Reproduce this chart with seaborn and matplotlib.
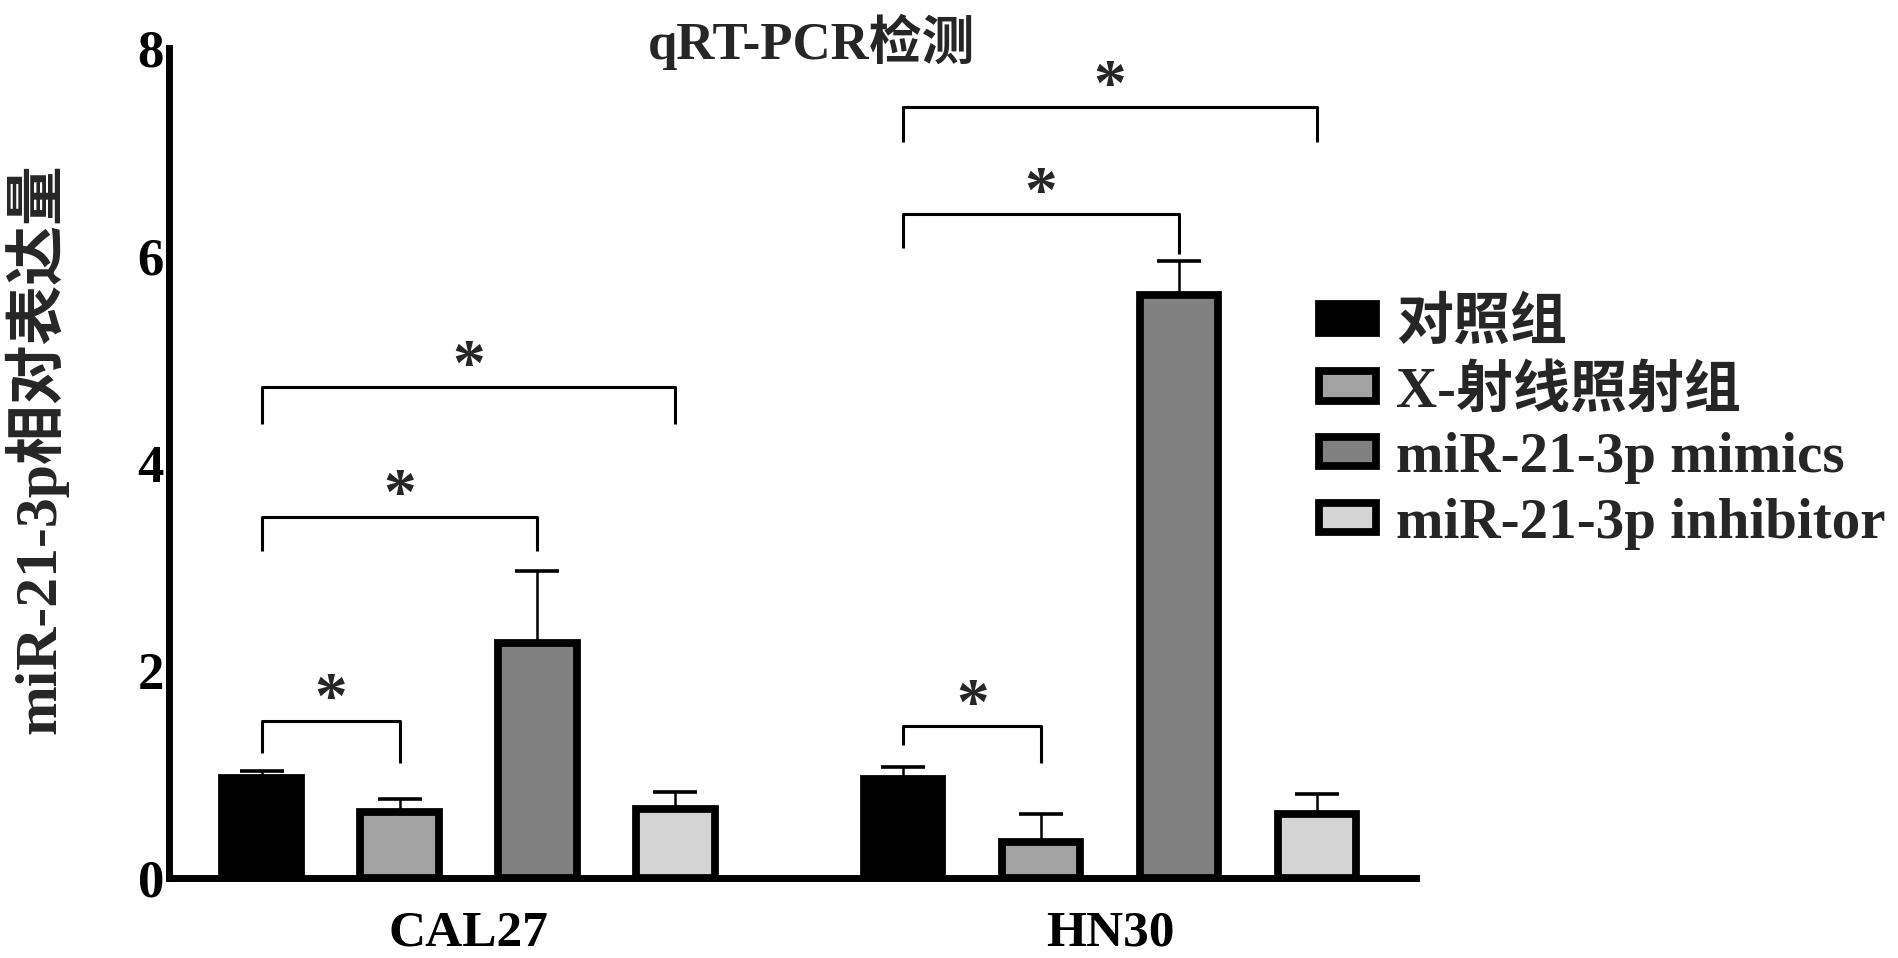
import numpy as np
import pandas as pd
import matplotlib
matplotlib.use("Agg")
import matplotlib.pyplot as plt
import seaborn as sns
from matplotlib.patches import Patch

# data
cells = ["CAL27", "HN30"]
groups = ["对照组", "X-射线照射组", "miR-21-3p mimics", "miR-21-3p inhibitor"]
means = {
    "CAL27": [0.96, 0.63, 2.26, 0.66],
    "HN30": [0.95, 0.34, 5.62, 0.61],
}
errs = {
    "CAL27": [0.07, 0.13, 0.70, 0.17],
    "HN30": [0.12, 0.27, 0.33, 0.20],
}
colors = ["#000000", "#a2a2a2", "#808080", "#d4d4d4"]

# significance brackets: cell, group a, group b, line height, left leg end, right leg end
br_cell = ["CAL27", "CAL27", "CAL27", "HN30", "HN30", "HN30"]
br_a = [0, 0, 0, 0, 0, 0]
br_b = [1, 2, 3, 1, 2, 3]
br_top = [1.51, 3.48, 4.73, 1.46, 6.40, 7.43]
br_left = [1.20, 3.15, 4.38, 1.28, 6.07, 7.10]
br_right = [1.11, 3.15, 4.38, 1.11, 6.02, 7.10]

rows = []
for c in cells:
    for g, m in zip(groups, means[c]):
        rows.append({"cell": c, "group": g, "value": m})
df = pd.DataFrame(rows)

sns.set_style("white")
plt.rcParams['font.family'] = ['Liberation Serif', 'Noto Sans CJK SC']
plt.rcParams['font.weight'] = 'bold'

fig = plt.figure(figsize=(18.98, 9.58), dpi=100)
ax = fig.add_axes([0.0893, 0.0839, 0.6568, 0.8656])

sns.barplot(data=df, x="cell", y="value", hue="group", order=cells,
            hue_order=groups, palette=dict(zip(groups, colors)),
            width=0.86, gap=0.43, edgecolor="black", linewidth=5.6,
            errorbar=None, legend=False, ax=ax, zorder=3)

# upward-only error bars at the bar centres
centers = {}
bar_conts = list(ax.containers)
for h, cont in enumerate(bar_conts):
    for i, bar in enumerate(cont.patches):
        cx = bar.get_x() + bar.get_width() / 2
        centers[(cells[i], h)] = cx
        e = errs[cells[i]][h]
        ax.errorbar(cx, bar.get_height(), yerr=[[0], [e]], color="black",
                    elinewidth=1.8, capsize=16, capthick=2.6, zorder=2)

for c, a, b, top, yl, yr in zip(br_cell, br_a, br_b, br_top, br_left, br_right):
    xa, xb = centers[(c, a)], centers[(c, b)]
    ax.plot([xa, xa, xb, xb], [yl, top, top, yr], color="black", lw=2.2,
            solid_capstyle="butt", zorder=4)
    ax.text((xa + xb) / 2, top - 0.1, "*", ha="center", va="bottom",
            fontsize=47, fontweight="bold", zorder=4)

ax.set_xlim(-0.466, 1.477)
ax.set_ylim(0, 8)
ax.set_yticks([0, 2, 4, 6, 8])
ax.set_xlabel("")
ax.set_ylabel("")
sns.despine(ax=ax)
for s in ["left", "bottom"]:
    ax.spines[s].set_linewidth(5)
    ax.spines[s].set_color("black")
ax.tick_params(axis="y", direction="in", length=25, width=3.6, pad=4,
               labelsize=38, colors="black")
ax.tick_params(axis="x", length=0, pad=24, labelsize=37, colors="black")
for lab in ax.get_xticklabels() + ax.get_yticklabels():
    lab.set_fontweight("bold")

ax.text(0.515, 1.008, "qRT-PCR检测", transform=ax.transAxes, ha="center",
        va="center", fontsize=38, fontweight="bold")
fig.text(0.019, 0.532, "miR-21-3p相对表达量", rotation=90, ha="center",
         va="center", fontsize=43, fontweight="bold")

handles = [Patch(facecolor=col, edgecolor="black", linewidth=5.6) for col in colors]
fig.legend(handles, groups, loc="center left", bbox_to_anchor=(0.695, 0.558),
           frameon=False, handlelength=1.0, handleheight=0.42,
           handletextpad=0.35, labelspacing=0.24, borderpad=0, borderaxespad=0,
           prop={"size": 41, "weight": "bold"})

fig.savefig("out.png", dpi=100)
